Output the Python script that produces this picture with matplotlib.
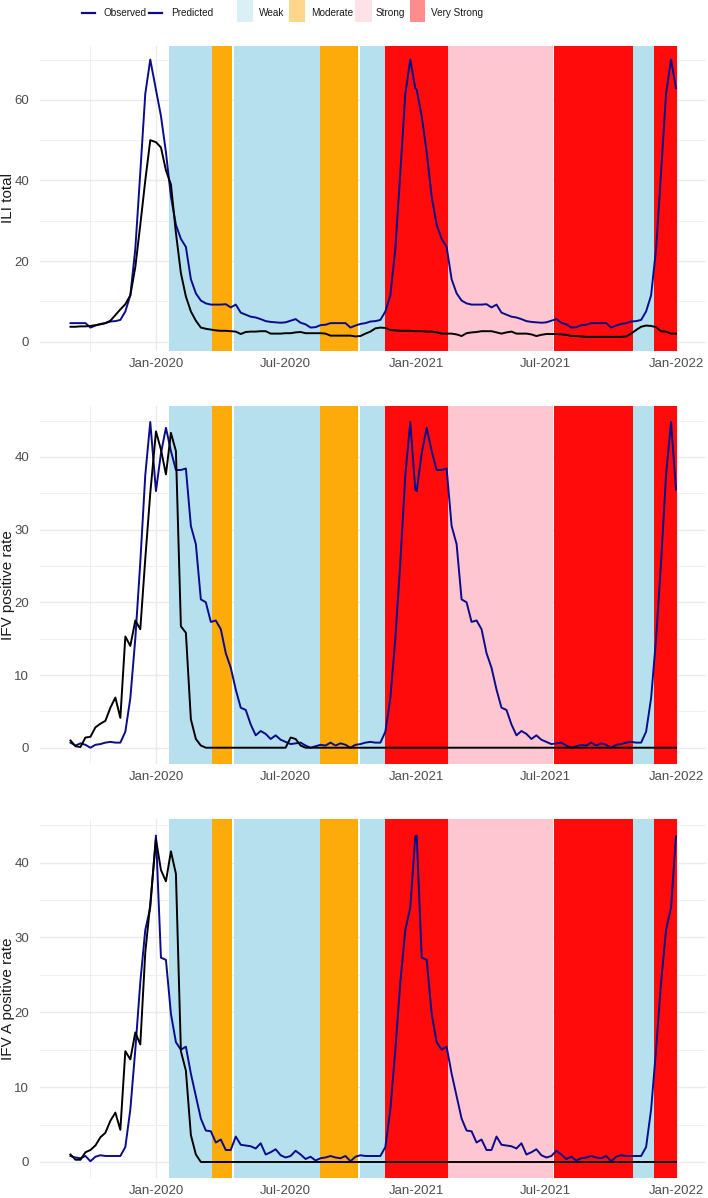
import pandas as pd
import matplotlib
matplotlib.use("Agg")
import matplotlib.pyplot as plt
import matplotlib.dates as mdates
from matplotlib.lines import Line2D
from matplotlib.patches import Rectangle

plt.rcParams["font.family"] = ["Liberation Sans", "DejaVu Sans"]

# --------------------------------------------------
# DATA (weekly, indexed by year / week number)
# --------------------------------------------------
weeks_2019 = list(range(36, 53))
weeks_2020 = list(range(1, 54))
weeks_2021 = list(range(1, 54))

# ILI total
obs_ili_2019 = [3.7, 3.7, 3.8, 3.8, 3.9, 4.1, 4.3, 4.6, 5.2, 6.6, 8.0, 9.3, 11.5, 18.5, 29.0, 40.0, 50.0]
obs_ili_2020 = [49.5, 48.2, 42.5, 39.0, 27.0, 17.0, 11.2, 7.5, 5.2, 3.5,
                3.2, 3.0, 2.8, 2.7, 2.7, 2.6, 2.5, 1.9, 2.4, 2.5,
                2.5, 2.6, 2.6, 2.0, 2.0, 2.0, 2.1, 2.1, 2.3, 2.4,
                2.1, 2.1, 2.1, 2.1, 2.0, 1.5, 1.5, 1.5, 1.5, 1.5,
                1.3, 1.4, 2.0, 2.5, 3.3, 3.5, 3.4, 2.9, 2.8, 2.7,
                2.7, 2.7, 2.6]
obs_ili_2021 = [2.6, 2.6, 2.5, 2.5, 2.3, 2.0, 2.0, 2.0, 1.8, 1.4,
                2.1, 2.3, 2.4, 2.6, 2.6, 2.6, 2.3, 2.0, 2.3, 2.5,
                2.0, 2.0, 2.0, 1.8, 1.4, 1.7, 1.9, 1.9, 1.9, 1.8,
                1.7, 1.4, 1.4, 1.3, 1.2, 1.2, 1.2, 1.2, 1.2, 1.2,
                1.2, 1.2, 1.3, 2.0, 2.9, 3.7, 4.0, 3.9, 3.6, 2.6,
                2.5, 2.0, 2.0]
pred_ili_2019 = [4.6, 4.6, 4.6, 4.6, 3.5, 4.0, 4.4, 4.6, 5.0, 5.1, 5.4, 7.5, 11.5, 23.0, 42.0, 61.5, 70.0]
pred_ili_2020 = [62.5, 56.0, 47.0, 36.0, 29.0, 25.5, 23.5, 15.5, 12.0, 10.2,
                 9.5, 9.2, 9.2, 9.2, 9.3, 8.5, 9.2, 7.2, 6.7, 6.2,
                 6.0, 5.6, 5.1, 4.9, 4.8, 4.7, 4.8, 5.2, 5.6, 4.7,
                 4.3, 3.5, 3.6, 4.1, 4.2, 4.6, 4.6, 4.6, 4.6, 3.5,
                 4.0, 4.4, 4.6, 5.0, 5.1, 5.4, 7.5, 11.5, 23.0, 42.0,
                 61.5, 70.0, 62.9]
pred_ili_2021 = [62.5, 56.0, 47.0, 36.0, 29.0, 25.5, 23.5, 15.5, 12.0, 10.2,
                 9.5, 9.2, 9.2, 9.2, 9.3, 8.5, 9.2, 7.2, 6.7, 6.2,
                 6.0, 5.6, 5.1, 4.9, 4.8, 4.7, 4.8, 5.2, 5.6, 4.7,
                 4.3, 3.5, 3.6, 4.1, 4.2, 4.6, 4.6, 4.6, 4.6, 3.5,
                 4.0, 4.4, 4.6, 5.0, 5.1, 5.4, 7.5, 11.5, 23.0, 42.0,
                 61.5, 70.0, 62.9]

# IFV positive rate
obs_ifv_2019 = [1.0, 0.2, 0.1, 1.4, 1.5, 2.8, 3.3, 3.7, 5.5, 6.9, 4.1, 15.3, 14.0, 17.5, 16.3, 26.0, 35.0]
obs_ifv_2020 = [43.5, 41.0, 37.6, 43.3, 40.8, 16.7, 15.8, 3.9, 1.2, 0.3,
                0, 0, 0, 0, 0, 0, 0, 0, 0, 0,
                0, 0, 0, 0, 0, 0, 0, 1.4, 1.2, 0.3,
                0, 0, 0, 0, 0, 0, 0, 0, 0, 0,
                0, 0, 0, 0, 0, 0, 0, 0, 0, 0,
                0, 0, 0]
obs_ifv_2021 = [0] * 53
pred_ifv_2019 = [0.7, 0.3, 0.6, 0.4, 0.0, 0.4, 0.5, 0.7, 0.8, 0.7, 0.7, 2.2, 6.8, 15.0, 25.5, 37.5, 44.8]
pred_ifv_2020 = [35.3, 40.5, 44.0, 40.8, 38.2, 38.2, 38.4, 30.5, 28.0, 20.4,
                 20.0, 17.3, 17.5, 16.3, 13.0, 11.0, 8.0, 5.5, 5.2, 3.2,
                 1.7, 2.3, 1.9, 1.2, 1.7, 1.1, 0.8, 0.5, 0.6, 0.7,
                 0.3, 0.0, 0.2, 0.4, 0.3, 0.7, 0.3, 0.6, 0.4, 0.0,
                 0.4, 0.5, 0.7, 0.8, 0.7, 0.7, 2.2, 6.8, 15.0, 25.5,
                 37.5, 44.8, 35.5]
pred_ifv_2021 = [35.3, 40.5, 44.0, 40.8, 38.2, 38.2, 38.4, 30.5, 28.0, 20.4,
                 20.0, 17.3, 17.5, 16.3, 13.0, 11.0, 8.0, 5.5, 5.2, 3.2,
                 1.7, 2.3, 1.9, 1.2, 1.7, 1.1, 0.8, 0.5, 0.6, 0.7,
                 0.3, 0.0, 0.2, 0.4, 0.3, 0.7, 0.3, 0.6, 0.4, 0.0,
                 0.4, 0.5, 0.7, 0.8, 0.7, 0.7, 2.2, 6.8, 15.0, 25.5,
                 37.5, 44.8, 35.5]

# IFV A positive rate
obs_ifva_2019 = [1.0, 0.3, 0.3, 1.3, 1.6, 2.2, 3.3, 3.9, 5.5, 6.6, 4.3, 14.8, 13.7, 17.3, 15.7, 28.0, 34.5]
obs_ifva_2020 = [43.1, 39.0, 37.5, 41.5, 38.5, 14.8, 12.2, 3.6, 1.0, 0,
                 0, 0, 0, 0, 0, 0, 0, 0, 0, 0,
                 0, 0, 0, 0, 0, 0, 0, 0, 0, 0,
                 0, 0, 0, 0, 0, 0, 0, 0, 0, 0,
                 0, 0, 0, 0, 0, 0, 0, 0, 0, 0,
                 0, 0, 0]
obs_ifva_2021 = [0] * 53
pred_ifva_2019 = [0.8, 0.6, 0.5, 0.8, 0.1, 0.7, 0.9, 0.8, 0.8, 0.8, 0.8, 2.0, 7.0, 15.0, 24.0, 31.0, 34.0]
pred_ifva_2020 = [43.6, 27.3, 27.0, 19.8, 16.0, 15.0, 15.4, 11.8, 8.8, 5.8,
                  4.2, 4.1, 2.6, 3.0, 1.6, 1.6, 3.4, 2.3, 2.2, 2.1,
                  1.8, 2.5, 1.0, 1.3, 1.7, 0.9, 0.6, 0.8, 1.5, 1.0,
                  0.4, 0.7, 0.2, 0.5, 0.6, 0.8, 0.6, 0.5, 0.8, 0.1,
                  0.7, 0.9, 0.8, 0.8, 0.8, 0.8, 2.0, 7.0, 15.0, 24.0,
                  31.0, 34.0, 43.5]
pred_ifva_2021 = [43.6, 27.3, 27.0, 19.8, 16.0, 15.0, 15.4, 11.8, 8.8, 5.8,
                  4.2, 4.1, 2.6, 3.0, 1.6, 1.6, 3.4, 2.3, 2.2, 2.1,
                  1.8, 2.5, 1.0, 1.3, 1.7, 0.9, 0.6, 0.8, 1.5, 1.0,
                  0.4, 0.7, 0.2, 0.5, 0.6, 0.8, 0.6, 0.5, 0.8, 0.1,
                  0.7, 0.9, 0.8, 0.8, 0.8, 0.8, 2.0, 7.0, 15.0, 24.0,
                  31.0, 34.0, 43.5]

# NPI intensity periods
level_start = ["2020-01-19", "2020-03-20", "2020-04-19", "2020-08-18", "2020-10-13",
               "2020-11-18", "2021-02-14", "2021-07-13", "2021-11-01", "2021-11-30"]
level_end = ["2020-03-20", "2020-04-17", "2020-08-18", "2020-10-11", "2020-11-18",
             "2021-02-14", "2021-07-11", "2021-11-01", "2021-11-30", "2022-01-02"]
level_name = ["Weak", "Moderate", "Weak", "Moderate", "Weak",
              "Very Strong", "Strong", "Very Strong", "Weak", "Very Strong"]

level_colors = {"Weak": "#B6E0ED", "Moderate": "#FDAA0B", "Strong": "#FDC6D1", "Very Strong": "#FF0B0B"}
legend_colors = {"Weak": "#DAEFF6", "Moderate": "#FED78C", "Strong": "#FFE2E7", "Very Strong": "#FF8D8D"}

OBS_COLOR = "black"
PRED_COLOR = "#0B0B8C"


def week_dates(year, weeks):
    return [pd.Timestamp(year, 1, 1) + pd.Timedelta(days=7 * (w - 1)) for w in weeks]


def main():
    dates = week_dates(2019, weeks_2019) + week_dates(2020, weeks_2020) + week_dates(2021, weeks_2021)

    panels = [
        ("ILI total", obs_ili_2019 + obs_ili_2020 + obs_ili_2021,
         pred_ili_2019 + pred_ili_2020 + pred_ili_2021, 20),
        ("IFV positive rate", obs_ifv_2019 + obs_ifv_2020 + obs_ifv_2021,
         pred_ifv_2019 + pred_ifv_2020 + pred_ifv_2021, 10),
        ("IFV A positive rate", obs_ifva_2019 + obs_ifva_2020 + obs_ifva_2021,
         pred_ifva_2019 + pred_ifva_2020 + pred_ifva_2021, 10),
    ]

    W, H = 708, 1198
    fig = plt.figure(figsize=(W / 100, H / 100), dpi=100)

    # panel boxes in pixels: (top, bottom)
    boxes = [(45.7, 350.7), (405.7, 764.0), (819.3, 1178.3)]
    left_px, right_px = 40.2, 706.3

    x0 = mdates.date2num(dates[0])
    x1 = mdates.date2num(dates[-1])
    span = x1 - x0

    for (ylab, obs, pred, step), (top, bot) in zip(panels, boxes):
        ax = fig.add_axes([left_px / W, 1 - bot / H, (right_px - left_px) / W, (bot - top) / H])

        for s, e, lvl in zip(level_start, level_end, level_name):
            ax.axvspan(pd.Timestamp(s), pd.Timestamp(e), color=level_colors[lvl],
                       linewidth=0, zorder=1)

        ax.plot(dates, pred, color=PRED_COLOR, lw=1.4, zorder=3)
        ax.plot(dates, obs, color=OBS_COLOR, lw=1.4, zorder=4)

        ymin = min(min(obs), min(pred))
        ymax = max(max(obs), max(pred))
        yr = ymax - ymin
        ax.set_ylim(ymin - 0.05 * yr, ymax + 0.05 * yr)
        ax.set_xlim(x0 - 0.05 * span, x1 + 0.05 * span)

        ax.yaxis.set_major_locator(plt.MultipleLocator(step))
        ax.yaxis.set_minor_locator(plt.MultipleLocator(step / 2))
        ax.xaxis.set_major_locator(mdates.MonthLocator(bymonth=[1, 7]))
        ax.xaxis.set_minor_locator(mdates.MonthLocator(bymonth=[4, 10]))
        ax.xaxis.set_major_formatter(mdates.DateFormatter("%b-%Y"))

        ax.set_axisbelow(True)
        ax.grid(which="major", color="#EBEBEB", lw=1.0, zorder=0)
        ax.grid(which="minor", color="#F0F0F0", lw=0.7, zorder=0)
        for sp in ax.spines.values():
            sp.set_visible(False)
        ax.tick_params(which="both", length=0)
        ax.tick_params(axis="x", labelsize=9.5, labelcolor="#4D4D4D", pad=5)
        ax.tick_params(axis="y", labelsize=9.5, labelcolor="#4D4D4D", pad=8)

        ax.set_ylabel(ylab, fontsize=11, color="#1A1A1A")
        ax.yaxis.set_label_coords((15.5 - left_px) / (right_px - left_px), 0.5)

    # legend across the top
    yc = 1 - 13.3 / H
    for xa, xb, label, xt in [(82, 95, "Observed", 103), (149, 162, "Predicted", 171)]:
        fig.add_artist(Line2D([xa / W, xb / W], [yc, yc], color=PRED_COLOR, lw=1.6,
                              transform=fig.transFigure))
        fig.text(xt / W, yc, label, ha="left", va="center", fontsize=7.2, color="#1A1A1A")

    for xa, xb, lvl, xt in [(237, 253, "Weak", 259), (289, 305, "Moderate", 311),
                            (355, 372, "Strong", 376), (410, 425, "Very Strong", 431)]:
        fig.add_artist(Rectangle((xa / W, 1 - 22 / H), (xb - xa) / W, 22 / H,
                                 color=legend_colors[lvl], linewidth=0,
                                 transform=fig.transFigure))
        fig.text(xt / W, yc, lvl, ha="left", va="center", fontsize=7.2, color="#1A1A1A")

    fig.savefig("out.png", dpi=100)


if __name__ == "__main__":
    main()
